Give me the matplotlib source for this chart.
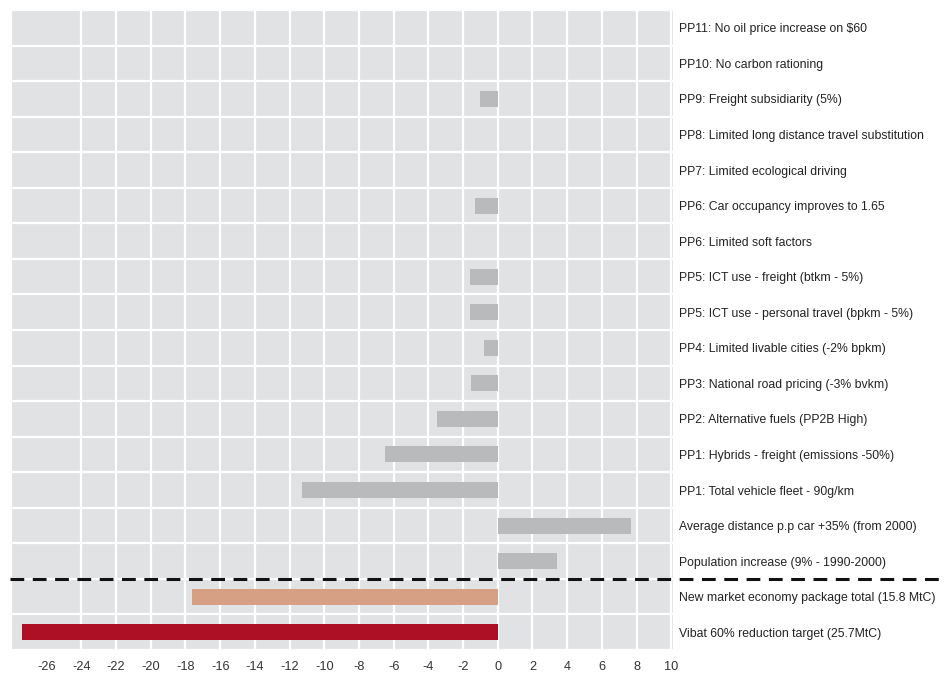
import matplotlib
matplotlib.use("Agg")
import matplotlib.pyplot as plt
import numpy as np

plt.rcParams['font.family'] = ['Liberation Sans', 'DejaVu Sans']

categories = [
    "PP11: No oil price increase on $60",
    "PP10: No carbon rationing",
    "PP9: Freight subsidiarity (5%)",
    "PP8: Limited long distance travel substitution",
    "PP7: Limited ecological driving",
    "PP6: Car occupancy improves to 1.65",
    "PP6: Limited soft factors",
    "PP5: ICT use - freight (btkm - 5%)",
    "PP5: ICT use - personal travel (bpkm - 5%)",
    "PP4: Limited livable cities (-2% bpkm)",
    "PP3: National road pricing (-3% bvkm)",
    "PP2: Alternative fuels (PP2B High)",
    "PP1: Hybrids - freight (emissions -50%)",
    "PP1: Total vehicle fleet - 90g/km",
    "Average distance p.p car +35% (from 2000)",
    "Population increase (9% - 1990-2000)",
    "New market economy package total (15.8 MtC)",
    "Vibat 60% reduction target (25.7MtC)",
]
values = [0, 0, -1.0, 0, 0, -1.3, 0, -1.6, -1.6, -0.8, -1.55, -3.5,
          -6.5, -11.3, 7.7, 3.4, -17.6, -27.4]
grey, orange, red = "#b9babc", "#d6a085", "#ad0f24"
bar_colors = [grey] * 16 + [orange, red]
xticks = list(range(-26, 11, 2))

fig = plt.figure(figsize=(9.45, 6.74), dpi=100)
ax = fig.add_axes([12/945, 1 - 650/674, (673-12)/945, 640/674])
ax.set_facecolor("#e1e2e4")

y = np.arange(len(categories))
ax.barh(y, values, height=0.45, color=bar_colors, zorder=3)

ax.set_xlim(-28.0, 10.1)
ax.set_ylim(len(categories) - 0.5, -0.5)
ax.set_xticks(xticks)
ax.set_xticklabels([str(t) for t in xticks], fontsize=9.2, color="#333333")
ax.set_yticks(y)
ax.set_yticklabels(categories, fontsize=8.85, color="#222222")
ax.yaxis.tick_right()
ax.tick_params(axis='both', length=0)
ax.tick_params(axis='x', pad=8)
ax.tick_params(axis='y', pad=4)

ax.set_yticks(np.arange(len(categories) + 1) - 0.5, minor=True)
ax.tick_params(axis='y', which='minor', length=0)
ax.grid(True, axis='x', which='major', color='white', linewidth=1.6, zorder=1)
ax.grid(True, axis='y', which='minor', color='white', linewidth=1.6, zorder=1)
ax.get_xgridlines()[0].set_visible(False)
ax.set_axisbelow(True)
for s in ax.spines.values():
    s.set_visible(False)

# dashed separator between drivers and totals
ax.axhline(15.5, xmin=-0.003, xmax=(945 - 12) / (673 - 12), color="#111111",
           linewidth=2.2, linestyle=(0, (4.5, 2.8)), clip_on=False, zorder=5)

fig.savefig("out.png", dpi=100, facecolor="white")
